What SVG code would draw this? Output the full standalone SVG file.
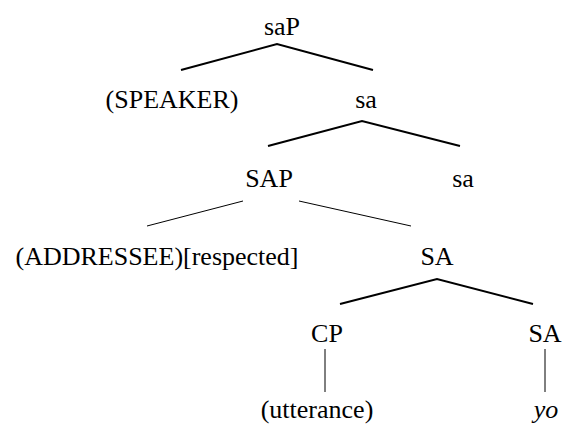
<svg xmlns="http://www.w3.org/2000/svg" width="565" height="425" viewBox="0 0 565 425">
<style>
text{font-family:"Liberation Serif","Times New Roman",serif;font-size:26px;fill:#000;text-anchor:middle}
.it{font-style:italic}
.thick{stroke:#000;stroke-width:2;fill:none}
.thin{stroke:#000;stroke-width:1;fill:none}
</style>
<rect width="565" height="425" fill="#fff"/>
<g id="connectors">
<path class="thick" d="M181,70 L277,44 L373,70"/>
<path class="thick" d="M268,146 L362,121 L460,146"/>
<line class="thin" x1="243" y1="201" x2="147" y2="226"/>
<line class="thin" x1="299" y1="201" x2="411" y2="226"/>
<path class="thick" d="M340,304 L437,279 L533,304"/>
<line class="thin" x1="325" y1="349" x2="325" y2="392"/>
<line class="thin" x1="545" y1="349" x2="545" y2="392"/>
</g>
<g id="saP"><text x="282" y="35">saP</text></g>
<g id="speaker"><text x="172" y="108">(SPEAKER)</text></g>
<g id="sa1"><text x="366" y="108">sa</text></g>
<g id="SAP"><text x="269" y="187">SAP</text></g>
<g id="sa2"><text x="463" y="187">sa</text></g>
<g id="addressee"><text x="157" y="265">(ADDRESSEE)[respected]</text></g>
<g id="SA1"><text x="437" y="265">SA</text></g>
<g id="CP"><text x="327" y="342">CP</text></g>
<g id="SA2"><text x="545" y="342">SA</text></g>
<g id="utterance"><text x="317" y="418">(utterance)</text></g>
<g id="yo"><text class="it" x="546" y="418">yo</text></g>
</svg>
